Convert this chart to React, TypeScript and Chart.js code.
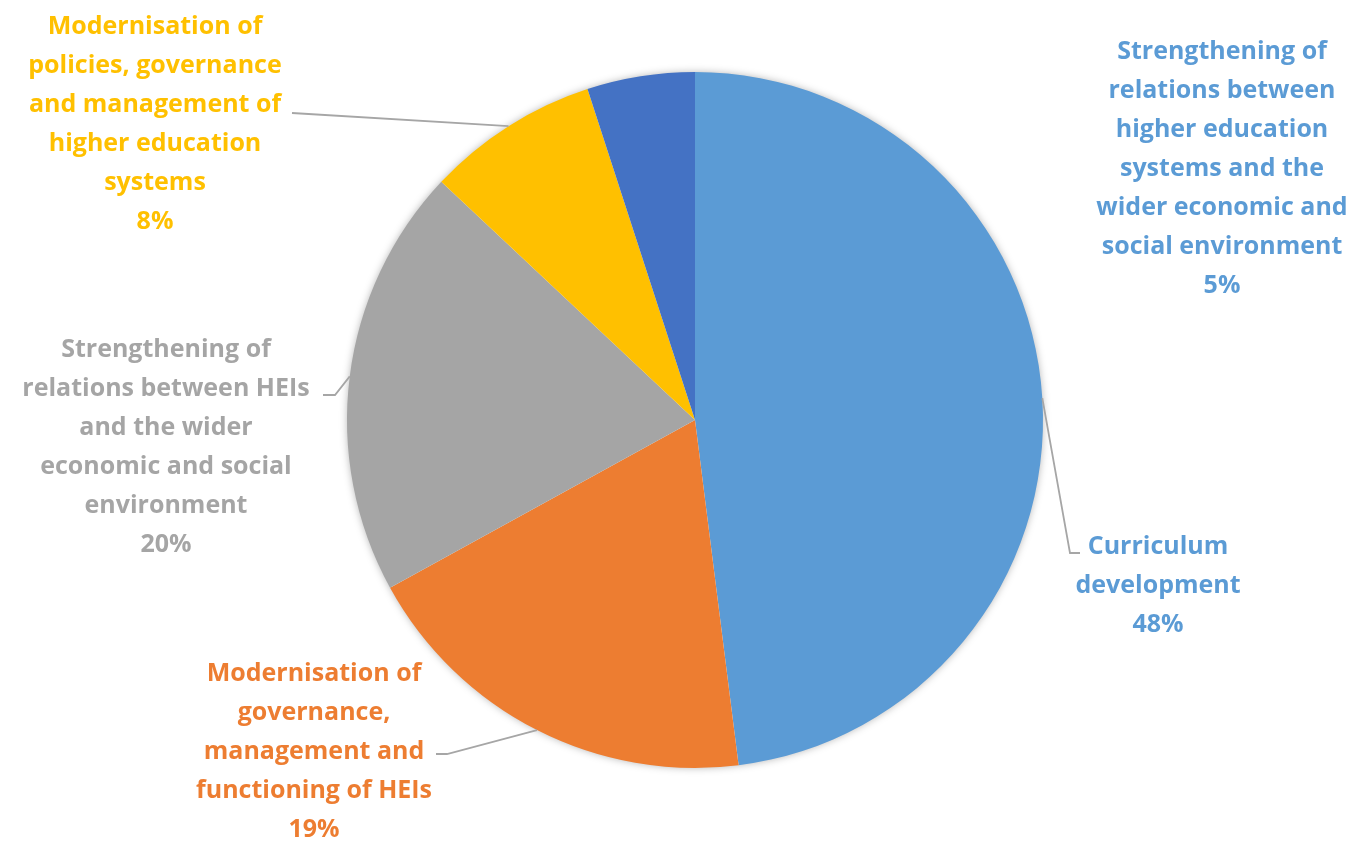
import React, { useEffect, useRef } from "react";
import { Chart, registerables } from "chart.js";

Chart.register(...registerables);

const categories = [
  "Curriculum development",
  "Modernisation of governance, management and functioning of HEIs",
  "Strengthening of relations between HEIs and the wider economic and social environment",
  "Modernisation of policies, governance and management of higher education systems",
  "Strengthening of relations between higher education systems and the wider economic and social environment",
];
const values = [48, 19, 20, 8, 5];
const sliceColors = ["#5B9BD5", "#ED7D31", "#A5A5A5", "#FFC000", "#4472C4"];
const labelColors = ["#5B9BD5", "#ED7D31", "#A5A5A5", "#FFC000", "#5B9BD5"];
const labelLines = [
  ["Curriculum", "development"],
  ["Modernisation of", "governance,", "management and", "functioning of HEIs"],
  ["Strengthening of", "relations between HEIs", "and the wider", "economic and social", "environment"],
  ["Modernisation of", "policies, governance", "and management of", "higher education", "systems"],
  ["Strengthening of", "relations between", "higher education", "systems and the", "wider economic and", "social environment"],
];

// label layout (offsets from the pie centre, in pixels) and leader elbow points
const labelLayout = [
  { dx: 463, dy: 127, elbow: [375, 133], end: [385, 133] },
  { dx: -381, dy: 254, elbow: [-248, 334], end: [-259, 334] },
  { dx: -529, dy: -70, elbow: [-360, -25], end: [-372, -25] },
  { dx: -540, dy: -393, elbow: null, end: [-403, -307] },
  { dx: 527, dy: -368, elbow: null, end: null },
];

const FONT = "bold 25px 'Open Sans'";
const LINE_H = 39;

const labelPlugin = {
  id: "pieLabels",
  beforeDatasetsDraw(chart: any) {
    const meta = chart.getDatasetMeta(0);
    const arc = meta.data[0];
    if (!arc) return;
    const { x, y, outerRadius } = arc.getProps(["x", "y", "outerRadius"], true);
    const ctx = chart.ctx;
    ctx.save();
    ctx.shadowColor = "rgba(0,0,0,0.35)";
    ctx.shadowBlur = 9;
    ctx.fillStyle = "#ffffff";
    ctx.beginPath();
    ctx.arc(x, y, outerRadius - 1, 0, Math.PI * 2);
    ctx.fill();
    ctx.restore();
  },
  afterDatasetsDraw(chart: any) {
    const ctx = chart.ctx;
    const meta = chart.getDatasetMeta(0);
    const total = values.reduce((a, b) => a + b, 0);
    meta.data.forEach((el: any, i: number) => {
      const { x, y, startAngle, endAngle, outerRadius } = el.getProps(
        ["x", "y", "startAngle", "endAngle", "outerRadius"],
        true
      );
      const mid = (startAngle + endAngle) / 2;
      const px = x + Math.cos(mid) * outerRadius;
      const py = y + Math.sin(mid) * outerRadius;
      const lay = labelLayout[i];
      if (lay.end) {
        ctx.save();
        ctx.strokeStyle = "#A6A6A6";
        ctx.lineWidth = 1.8;
        ctx.beginPath();
        ctx.moveTo(px, py);
        if (lay.elbow) ctx.lineTo(x + lay.elbow[0], y + lay.elbow[1]);
        ctx.lineTo(x + lay.end[0], y + lay.end[1]);
        ctx.stroke();
        ctx.restore();
      }
      const lines = [...labelLines[i], Math.round((values[i] / total) * 100) + "%"];
      ctx.save();
      ctx.font = FONT;
      ctx.fillStyle = labelColors[i];
      ctx.textAlign = "center";
      ctx.textBaseline = "middle";
      const cx = x + lay.dx;
      const top = y + lay.dy;
      lines.forEach((t, k) => {
        ctx.fillText(t, cx, top + k * LINE_H);
      });
      ctx.restore();
    });
  },
};

export default function App() {
  const ref = useRef<HTMLCanvasElement | null>(null);
  useEffect(() => {
    document.body.style.margin = "0";
    if (!ref.current) return;
    const chart = new Chart(ref.current, {
      type: "pie",
      data: {
        labels: categories,
        datasets: [
          {
            data: values,
            backgroundColor: sliceColors,
            borderWidth: 0,
          },
        ],
      },
      options: {
        animation: false,
        responsive: false,
        layout: { padding: { top: 72, bottom: 74, left: 31, right: 0 } },
        plugins: {
          legend: { display: false },
          tooltip: { enabled: false },
        },
      },
      plugins: [labelPlugin],
    });
    return () => chart.destroy();
  }, []);
  return (
    <div style={{ width: 1359, height: 842 }}>
      <canvas ref={ref} width={1359} height={842} style={{ display: "block" }} />
    </div>
  );
}
